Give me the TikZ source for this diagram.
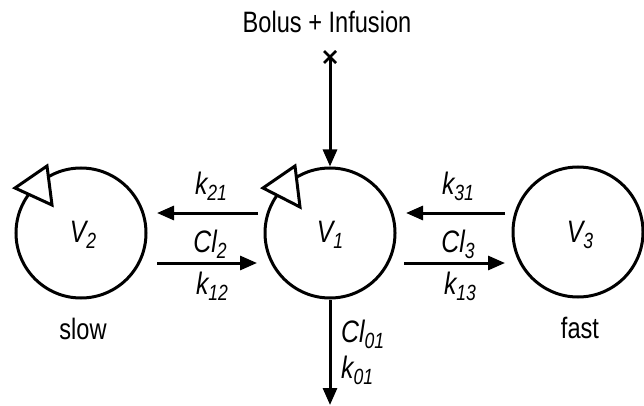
\documentclass[tikz,border=0pt]{standalone}
\usepackage{fontspec}
\setmainfont{Liberation Sans}[FakeStretch=0.8]
\usetikzlibrary{arrows.meta,calc}
\newcommand\mysub[1]{\raisebox{-6pt}{\fontsize{22}{22}\selectfont #1}}
\tikzset{
  comp/.style={circle, draw, line width=3pt, minimum size=130pt, inner sep=0pt},
  arr/.style={line width=3pt, -{Triangle[length=17pt,width=14pt]}},
  lbl/.style={anchor=base, inner sep=0pt, font=\fontsize{29.5}{30}\selectfont},
  ilbl/.style={lbl, font=\fontsize{31}{32}\selectfont\itshape},
  opentri/.style={draw, fill=white, line width=3pt, line join=miter},
}
\begin{document}
\begin{tikzpicture}[x=1pt,y=-1pt]
\useasboundingbox (0,0) rectangle (644,406);
% compartments
\node[comp] (v2) at (81,233) {};
\node[comp] (v1) at (330,233) {};
\node[comp] (v3) at (578,232) {};
% open arrowheads on the circles
\draw[opentri] ($(v2.center)+(-66,-45)$) -- ($(v2.center)+(-34,-67)$) -- ($(v2.center)+(-29,-28)$) -- cycle;
\draw[opentri] ($(v1.center)+(-67,-45)$) -- ($(v1.center)+(-35,-67)$) -- ($(v1.center)+(-30,-26)$) -- cycle;
% volume labels
\node[ilbl] (l2) at (83,242) {V\mysub{2}};
\node[ilbl] (l1) at (330,242) {V\mysub{1}};
\node[ilbl] (l3) at (580,242) {V\mysub{3}};
\node[lbl] (slow) at (83,339) {slow};
\node[lbl] (fast) at (580,338) {fast};
% input
\node[lbl] (bolus) at (327,33) {Bolus + Infusion};
\coordinate (cross) at (330,57);
\draw[line width=2.8pt] ($(cross)+(-6,-6)$) -- ($(cross)+(6,6)$) ($(cross)+(-6,6)$) -- ($(cross)+(6,-6)$);
\draw[arr] (cross) -- (v1.north);
% elimination
\coordinate (out) at (330,405);
\draw[arr] (v1.south) -- (out);
\node[ilbl, anchor=base west] (cl01) at (341,342) {Cl\mysub{01}};
\node[ilbl, anchor=base west] (k01) at (341,378) {k\mysub{01}};
% exchange arrows
\coordinate (a1s) at (258,213); \coordinate (a1e) at (157,213);
\coordinate (a2s) at (157,263); \coordinate (a2e) at (257,263);
\coordinate (a3s) at (505,213); \coordinate (a3e) at (406,213);
\coordinate (a4s) at (404,263); \coordinate (a4e) at (505,263);
\draw[arr] (a1s) -- (a1e);
\draw[arr] (a2s) -- (a2e);
\draw[arr] (a3s) -- (a3e);
\draw[arr] (a4s) -- (a4e);
\node[ilbl] (k21) at (211,194) {k\mysub{21}};
\node[ilbl] (cl2) at (210,252) {Cl\mysub{2}};
\node[ilbl] (k12) at (212,294) {k\mysub{12}};
\node[ilbl] (k31) at (458,194) {k\mysub{31}};
\node[ilbl] (cl3) at (458,252) {Cl\mysub{3}};
\node[ilbl] (k13) at (460,294) {k\mysub{13}};
\end{tikzpicture}
\end{document}
